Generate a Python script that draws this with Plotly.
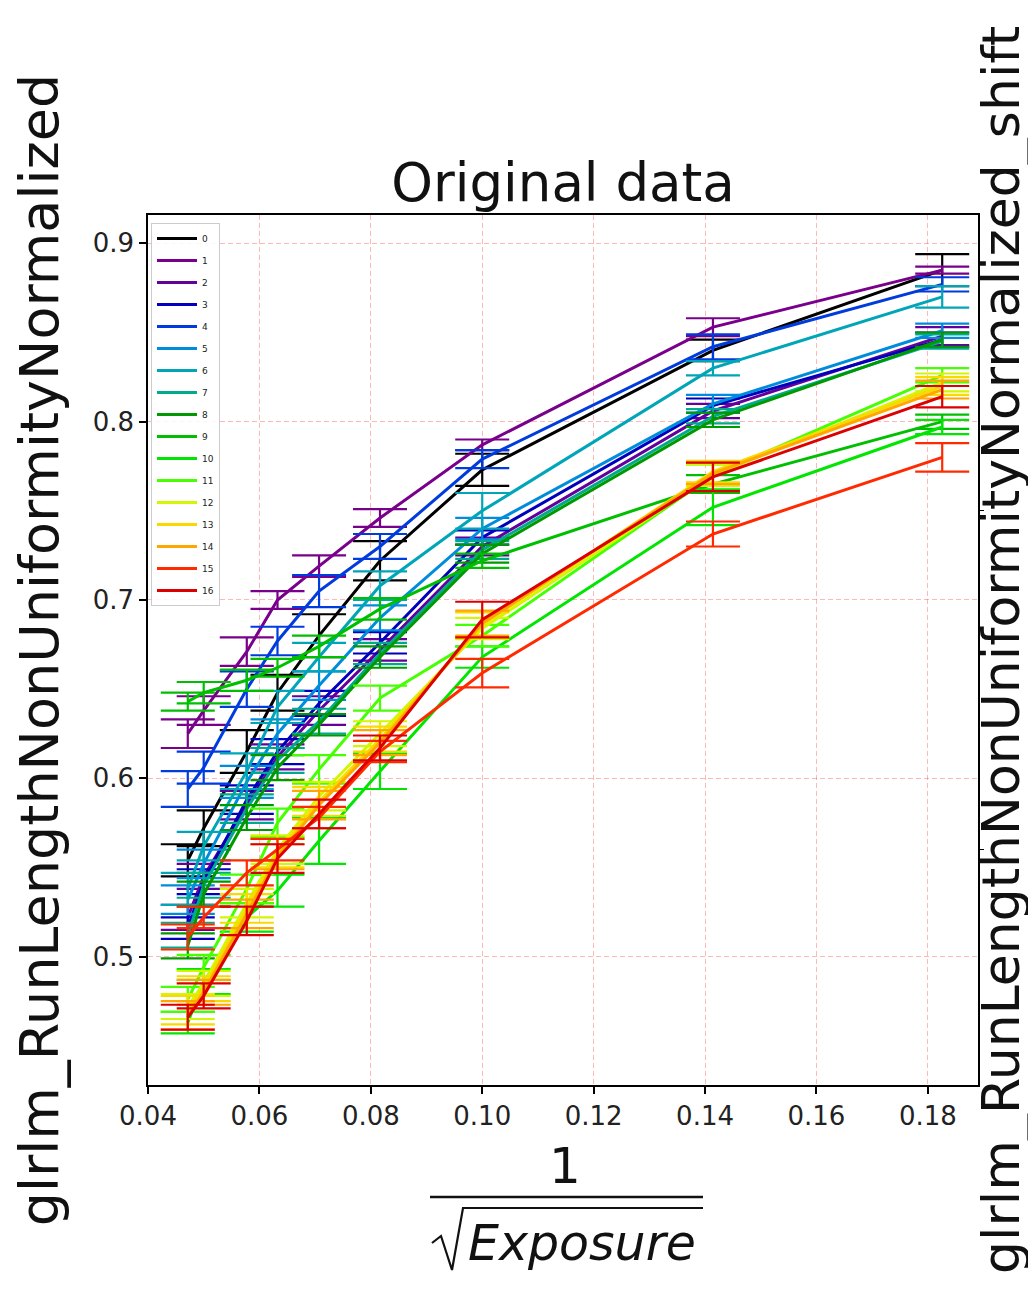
import numpy as np
import plotly.graph_objects as go

# ---------------- data ----------------
exposure = [450, 400, 300, 250, 200, 150, 100, 50, 30]
x_vals = [1 / np.sqrt(e) for e in exposure]

series_names = [str(i) for i in range(17)]

values_0 = [0.554, 0.572, 0.615, 0.648, 0.680, 0.722, 0.773, 0.840, 0.885]
values_1 = [0.625, 0.638, 0.671, 0.700, 0.719, 0.746, 0.787, 0.853, 0.885]
values_2 = [0.522, 0.545, 0.585, 0.612, 0.638, 0.672, 0.730, 0.806, 0.848]
values_3 = [0.516, 0.542, 0.588, 0.615, 0.642, 0.676, 0.735, 0.809, 0.846]
values_4 = [0.594, 0.606, 0.650, 0.677, 0.705, 0.730, 0.779, 0.842, 0.877]
values_5 = [0.532, 0.552, 0.598, 0.625, 0.652, 0.690, 0.740, 0.810, 0.851]
values_6 = [0.538, 0.562, 0.604, 0.640, 0.668, 0.708, 0.750, 0.830, 0.870]
values_7 = [0.512, 0.540, 0.583, 0.610, 0.632, 0.670, 0.728, 0.803, 0.845]
values_8 = [0.506, 0.535, 0.578, 0.606, 0.630, 0.668, 0.726, 0.801, 0.846]
values_9 = [0.643, 0.648, 0.655, 0.662, 0.674, 0.695, 0.722, 0.765, 0.800]
values_10 = [0.463, 0.486, 0.522, 0.537, 0.565, 0.604, 0.668, 0.752, 0.797]
values_11 = [0.476, 0.494, 0.538, 0.575, 0.605, 0.645, 0.680, 0.770, 0.826]
values_12 = [0.472, 0.485, 0.530, 0.560, 0.590, 0.625, 0.684, 0.770, 0.822]
values_13 = [0.470, 0.482, 0.527, 0.558, 0.587, 0.622, 0.686, 0.772, 0.820]
values_14 = [0.467, 0.480, 0.524, 0.556, 0.585, 0.620, 0.687, 0.771, 0.818]
values_15 = [0.511, 0.522, 0.547, 0.560, 0.578, 0.615, 0.659, 0.737, 0.780]
values_16 = [0.466, 0.478, 0.520, 0.555, 0.580, 0.617, 0.689, 0.769, 0.814]

errors_0 = [0.009, 0.010, 0.012, 0.010, 0.012, 0.011, 0.009, 0.006, 0.009]
errors_1 = [0.008, 0.008, 0.008, 0.005, 0.006, 0.005, 0.003, 0.005, 0.002]
errors_2 = [0.007, 0.007, 0.008, 0.007, 0.008, 0.006, 0.005, 0.004, 0.005]
errors_3 = [0.006, 0.007, 0.008, 0.007, 0.007, 0.006, 0.004, 0.004, 0.004]
errors_4 = [0.010, 0.009, 0.010, 0.008, 0.009, 0.007, 0.005, 0.007, 0.004]
errors_5 = [0.008, 0.008, 0.009, 0.008, 0.008, 0.007, 0.006, 0.005, 0.004]
errors_6 = [0.009, 0.008, 0.010, 0.009, 0.008, 0.008, 0.010, 0.004, 0.006]
errors_7 = [0.007, 0.007, 0.008, 0.007, 0.007, 0.006, 0.005, 0.004, 0.004]
errors_8 = [0.007, 0.007, 0.007, 0.007, 0.006, 0.006, 0.005, 0.004, 0.004]
errors_9 = [0.005, 0.006, 0.006, 0.005, 0.006, 0.006, 0.004, 0.005, 0.004]
errors_10 = [0.006, 0.007, 0.008, 0.009, 0.013, 0.010, 0.006, 0.010, 0.004]
errors_11 = [0.007, 0.007, 0.008, 0.008, 0.008, 0.007, 0.006, 0.006, 0.004]
errors_12 = [0.007, 0.007, 0.008, 0.008, 0.008, 0.007, 0.006, 0.006, 0.005]
errors_13 = [0.008, 0.007, 0.008, 0.008, 0.008, 0.007, 0.007, 0.006, 0.005]
errors_14 = [0.008, 0.007, 0.008, 0.007, 0.008, 0.007, 0.007, 0.006, 0.005]
errors_15 = [0.007, 0.006, 0.007, 0.006, 0.006, 0.006, 0.008, 0.007, 0.008]
errors_16 = [0.007, 0.007, 0.008, 0.008, 0.008, 0.007, 0.010, 0.008, 0.006]

all_values = [values_0, values_1, values_2, values_3, values_4, values_5, values_6,
              values_7, values_8, values_9, values_10, values_11, values_12,
              values_13, values_14, values_15, values_16]
all_errors = [errors_0, errors_1, errors_2, errors_3, errors_4, errors_5, errors_6,
              errors_7, errors_8, errors_9, errors_10, errors_11, errors_12,
              errors_13, errors_14, errors_15, errors_16]

# ---------------- style ----------------
colors = ["#000000", "#79008a", "#66009d", "#0000bd", "#003cdd", "#008cdd",
          "#00a6b7", "#00aa8c", "#009900", "#00bf00", "#00e600", "#46ff00",
          "#d4f600", "#f9d900", "#ffa600", "#ff2a00", "#dd0000"]

FONT = "DejaVu Sans, Liberation Sans, Arial, sans-serif"
OFF = 8                              # page body margin of the browser
W, H = 1036 - OFF, 1308 - OFF
# plot area (reference pixels) -> figure pixels
L, R, T, B = 148 - OFF, 978 - OFF, 215 - OFF, 1085 - OFF


def px2paper(px, py):
    """reference-picture pixel -> paper coordinate"""
    return (px - OFF - L) / (R - L), (B - (py - OFF)) / (B - T)


fig = go.Figure()
for name, vals, errs, col in zip(series_names, all_values, all_errors, colors):
    fig.add_trace(go.Scatter(
        x=x_vals, y=vals, name=name, mode="lines",
        legendgroup=name,
        line=dict(color=col, width=3),
        error_y=dict(type="data", array=errs, visible=True,
                     color=col, thickness=2.2, width=27),
    ))

# empty trace so that the right-hand axis is drawn
fig.add_trace(go.Scatter(x=[], y=[], yaxis="y2", showlegend=False,
                         hoverinfo="skip"))

grid_col = "rgba(255,0,0,0.28)"
axis_common = dict(
    showline=True, linecolor="black", linewidth=1.5, mirror=True,
    ticks="outside", ticklen=7, tickwidth=1.5, tickcolor="black",
    showgrid=True, gridcolor=grid_col, gridwidth=1, griddash="5px,3px",
    zeroline=False, tickfont=dict(family=FONT, size=26, color="#222"),
)

fig.update_layout(
    width=W, height=H, template="none",
    paper_bgcolor="white", plot_bgcolor="white",
    margin=dict(l=L, r=W - R, t=T, b=H - B, autoexpand=False),
    title=dict(text="Original data", x=0.5, xref="paper", xanchor="center",
               y=1 - (182 - OFF) / H, yref="container", yanchor="middle",
               font=dict(family=FONT, size=53, color="#111")),
    xaxis=dict(range=[0.04, 0.189], tick0=0.04, dtick=0.02, tickformat=".2f",
               **axis_common),
    yaxis=dict(range=[0.428, 0.9159], tick0=0.5, dtick=0.1, tickformat=".1f",
               title=dict(text="glrlm_RunLengthNonUniformityNormalized",
                          font=dict(family=FONT, size=54, color="#111"),
                          standoff=22),
               **axis_common),
    yaxis2=dict(overlaying="y", side="right", range=[0.428, 0.9159],
                showgrid=False, zeroline=False, showline=False,
                ticks="outside", ticklen=5, tickcolor="black",
                showticklabels=False, tickvals=[0.88, 0.75, 0.56]),
    legend=dict(x=px2paper(151, 0)[0], y=px2paper(0, 223)[1],
                xanchor="left", yanchor="top",
                bgcolor="rgba(255,255,255,0.85)", bordercolor="#cccccc",
                borderwidth=1, font=dict(family=FONT, size=9, color="#222"),
                itemwidth=40, tracegroupgap=3, traceorder="grouped"),
    showlegend=True,
)

# right-hand axis title
rx, ry = px2paper(1001, 650)
fig.add_annotation(text="glrlm_RunLengthNonUniformityNormalized_shift",
                   x=rx, y=ry, xref="paper", yref="paper", textangle=-90,
                   showarrow=False, xanchor="center", yanchor="middle",
                   font=dict(family=FONT, size=52, color="#111"))

# ---------- x-axis label drawn as 1 / sqrt(Exposure) ----------
ax, ay = px2paper(565, 1166)
fig.add_annotation(text="1", x=ax, y=ay, xref="paper", yref="paper",
                   showarrow=False, xanchor="center", yanchor="middle",
                   font=dict(family=FONT, size=50, color="#111"))
ex, ey = px2paper(582, 1243)
fig.add_annotation(text="<i>Exposure</i>", x=ex, y=ey, xref="paper", yref="paper",
                   showarrow=False, xanchor="center", yanchor="middle",
                   font=dict(family=FONT, size=49, color="#111"))

fx0, fy = px2paper(430, 1197)
fx1, _ = px2paper(703, 1197)
fig.add_shape(type="line", xref="paper", yref="paper", x0=fx0, x1=fx1, y0=fy, y1=fy,
              line=dict(color="#111", width=2.5))

rad_pts = [(432, 1243), (441, 1236), (452, 1270), (463, 1208), (703, 1208)]
path = ""
for i, (px, py) in enumerate(rad_pts):
    qx, qy = px2paper(px, py)
    path += ("M" if i == 0 else " L") + f" {qx:.5f},{qy:.5f}"
fig.add_shape(type="path", xref="paper", yref="paper", path=path,
              line=dict(color="#111", width=2.2))

fig.write_html("out.html")
